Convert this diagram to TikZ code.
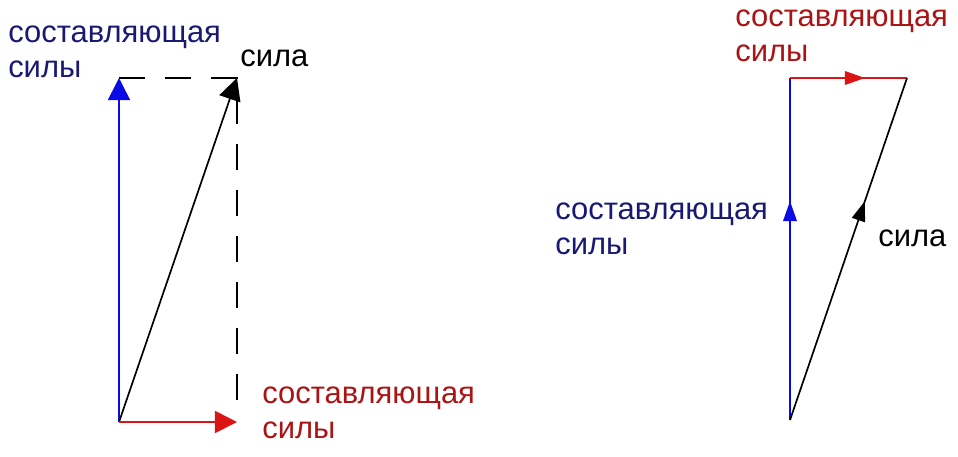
\documentclass[tikz,border=0pt]{standalone}
\usepackage{fontspec}
\setmainfont{Liberation Sans}
\usetikzlibrary{arrows.meta,positioning,decorations.markings}
\definecolor{vecblue}{RGB}{10,10,230}
\definecolor{vecred}{RGB}{220,20,20}
\definecolor{txtblue}{RGB}{25,25,115}
\definecolor{txtred}{RGB}{170,20,20}
\begin{document}
\begin{tikzpicture}
[x=0.025cm,y=-0.025cm,
font=\fontsize{22}{24.9}\selectfont,
lbl/.style={anchor=north west,inner sep=0pt,align=left},
vec/.style={line width=1.2pt,-{Triangle[length=5.5mm,width=5.5mm]}},
guide/.style={line width=1.2pt,dash pattern=on 6.5mm off 5mm},
side/.style={line width=1.2pt},
midvec/.style={side,postaction={decorate},decoration={markings,
  mark=at position 0.64 with {\arrow{Triangle[length=5mm,width=3.4mm]}}}}]
\useasboundingbox (0,0) rectangle (958,456);
%% left: force and its two components
\coordinate (o1) at (119,422);
\coordinate (a1) at (119,78);
\coordinate (f1) at (237,78);
\coordinate (r1) at (237,422);
\coordinate (d1) at (237,408);
\draw[guide] (a1) -- (f1) -- (d1);
\draw[vec,vecblue] (o1) -- (a1);
\draw[vec,black] (o1) -- (f1);
\draw[vec,vecred] (o1) -- (r1);
\node (c1) [lbl,text=txtblue] at (8,26) {составляющая\\силы};
\node (s1) [lbl] at (240,50) {сила};
\node (c2) [lbl,text=txtred] at (262,387) {составляющая\\силы};
%% right: components added head to tail
\coordinate (o2) at (790,420);
\coordinate (a2) at (790,78);
\coordinate (f2) at (907,78);
\draw[midvec,vecblue] (o2) -- (a2);
\draw[midvec,vecred] (a2) -- (f2);
\draw[midvec,black] (o2) -- (f2);
\node (c3) [lbl,text=txtred] at (735,10) {составляющая\\силы};
\node (c4) [lbl,text=txtblue] at (555,203) {составляющая\\силы};
\node (s2) [lbl] at (878,230) {сила};
%%
\end{tikzpicture}
\end{document}
